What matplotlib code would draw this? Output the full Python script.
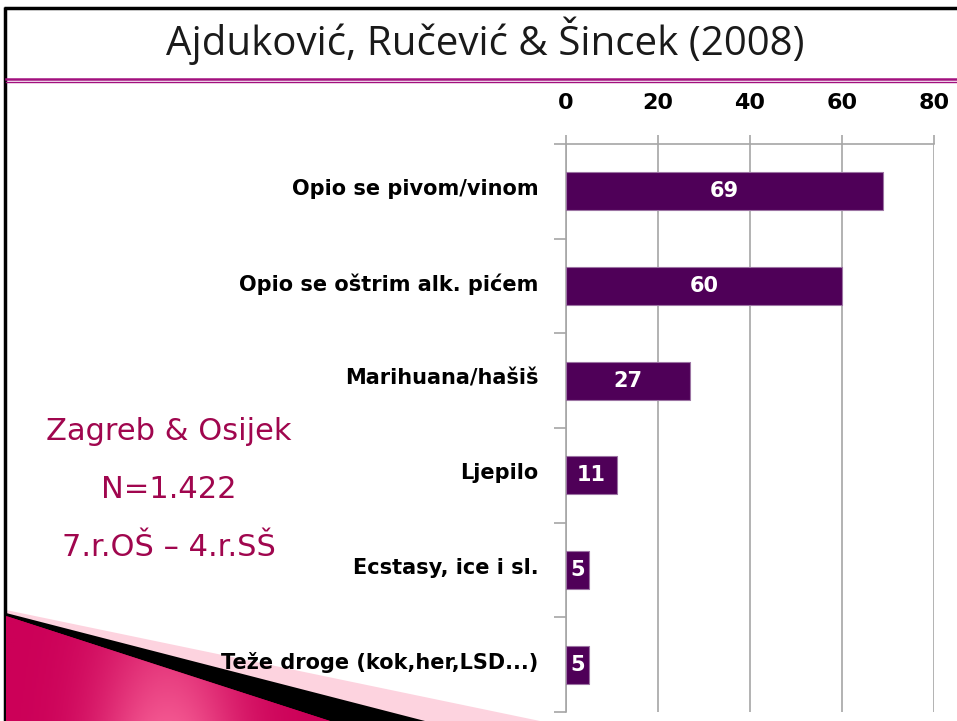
import matplotlib
matplotlib.use("Agg")
import matplotlib.pyplot as plt
import numpy as np
from matplotlib.patches import Polygon
from matplotlib.ticker import FixedLocator
from matplotlib.colors import LinearSegmentedColormap
from matplotlib.transforms import ScaledTranslation

categories = ["Opio se pivom/vinom", "Opio se oštrim alk. pićem", "Marihuana/hašiš",
              "Ljepilo", "Ecstasy, ice i sl.", "Teže droge (kok,her,LSD...)"]
values = [69, 60, 27, 11, 5, 5]
xticks = [0, 20, 40, 60, 80]
title = "Ajduković, Ručević & Šincek (2008)"
side_text = ["Zagreb & Osijek", "N=1.422", "7.r.OŠ – 4.r.SŠ"]

W, H = 957, 721
fig = plt.figure(figsize=(W / 100, H / 100), dpi=100)
fig.patch.set_facecolor("white")

# background / decoration axes in pixel coordinates
bg = fig.add_axes([0, 0, 1, 1])
bg.set_xlim(0, W)
bg.set_ylim(H, 0)
bg.axis("off")

# borders
bg.plot([4, W], [8, 8], color="black", lw=2.5, solid_capstyle="butt")
bg.plot([5, 5], [7, H], color="black", lw=2.5, solid_capstyle="butt")
# magenta double line
bg.plot([6, W], [78.5, 78.5], color="#A2107E", lw=1.8)
bg.plot([6, W], [82, 82], color="#A2107E", lw=1.0)

# title
bg.text(485, 41, title, ha="center", va="center", fontsize=29,
        family="Open Sans", color="#1a1a1a")

# side text
for i, t in enumerate(side_text):
    bg.text(169, 431 + 58 * i, t, ha="center", va="center", fontsize=22,
            family="DejaVu Sans", color="#A0064E")

# decorative wedge bottom-left
pale = Polygon([(6, 610), (540, H), (6, H)], closed=True, color="#FDD3DF", lw=0)
blk = Polygon([(6, 613), (425, H), (6, H)], closed=True, color="black", lw=0)
pink = Polygon([(6, 616), (330, H), (6, H)], closed=True, color="#D6005C", lw=0)
bg.add_patch(pale)
bg.add_patch(blk)
bg.add_patch(pink)
gx = np.linspace(0, 1, 200)
gy = np.linspace(0, 1, 50)
GX, GY = np.meshgrid(gx, gy)
grad = np.exp(-((GX - 0.5) ** 2) / 0.05) * (0.4 + 0.6 * GY)
cm = LinearSegmentedColormap.from_list("pk", ["#CC0058", "#F2558F"])
im = bg.imshow(grad, cmap=cm, extent=(6, 330, H, 616), aspect="auto", zorder=3)
im.set_clip_path(pink)

# main chart axes
x0, x1 = 566, 934
y0, y1 = 144, 712
ax = fig.add_axes([x0 / W, 1 - y1 / H, (x1 - x0) / W, (y1 - y0) / H])
ax.set_facecolor("none")
ypos = np.arange(len(categories))
bars = ax.barh(ypos, values, height=0.4, color="#4F0058", edgecolor="#9C74A3",
               linewidth=0.8, zorder=3)
ax.set_xlim(0, 80)
ax.set_ylim(len(categories) - 0.5, -0.5)
ax.set_xticks(xticks)
ax.xaxis.tick_top()
ax.tick_params(axis="x", which="major", length=6.5, color="#A6A6A6", width=1.2,
               labelsize=16, pad=16, labelcolor="black")
for lbl in ax.get_xticklabels():
    lbl.set_fontweight("bold")
ax.grid(axis="x", color="#A6A6A6", lw=1.2, zorder=0)
ax.set_yticks(ypos)
ax.set_yticklabels(categories, fontsize=15, family="DejaVu Sans", fontweight="bold")
ax.tick_params(axis="y", which="major", length=0, pad=20)
off = ScaledTranslation(0, 3 / 72, fig.dpi_scale_trans)
for lbl in ax.get_yticklabels():
    lbl.set_transform(lbl.get_transform() + off)
ax.yaxis.set_minor_locator(FixedLocator(np.arange(-0.5, len(categories), 1.0)))
ax.tick_params(axis="y", which="minor", length=9, color="#A6A6A6", width=1.2)
for s in ["right", "bottom"]:
    ax.spines[s].set_visible(False)
for s in ["left", "top"]:
    ax.spines[s].set_color("#A6A6A6")
    ax.spines[s].set_linewidth(1.2)

for b, v in zip(bars, values):
    ax.text(v / 2, b.get_y() + b.get_height() / 2, str(v), ha="center", va="center",
            color="white", fontsize=15, family="DejaVu Sans", fontweight="bold", zorder=4)

fig.savefig("out.png", dpi=100, facecolor="white")
